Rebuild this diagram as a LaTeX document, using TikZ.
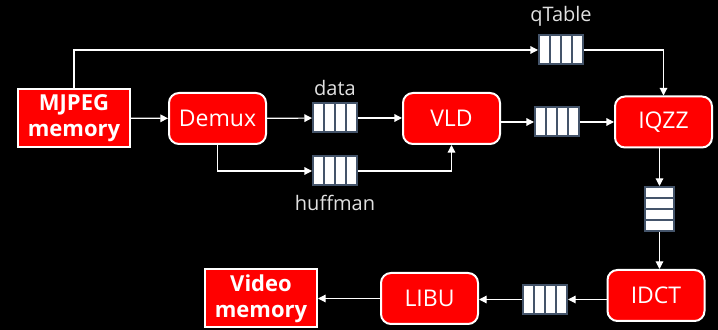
\documentclass[tikz,border=0pt]{standalone}
\usepackage{fontspec}
\setmainfont{Open Sans}
\usetikzlibrary{arrows.meta, positioning}
\definecolor{boxred}{RGB}{255,0,0}
\definecolor{slate}{RGB}{68,84,106}
\definecolor{labelgray}{RGB}{225,225,225}
\tikzset{
  stage/.style={rectangle, draw=white, fill=boxred, text=white,
    minimum width=48.5pt, minimum height=25.5pt, inner sep=0pt,
    rounded corners=5pt, line width=1pt,
    font=\fontsize{11.5}{13}\selectfont},
  memblock/.style={rectangle, draw=white, fill=boxred, text=white,
    minimum width=56pt, minimum height=29pt, inner sep=0pt,
    align=center, line width=1pt,
    font=\bfseries\fontsize{11}{13}\selectfont},
  fifo/.style={rectangle, draw=slate, fill=white, line width=1pt,
    minimum width=22pt, minimum height=14.5pt, inner sep=0pt,
    path picture={\foreach \k in {-5.5,0,5.5}
      \draw[slate, line width=1pt] ([xshift=\k pt]path picture bounding box.north)
        -- ([xshift=\k pt]path picture bounding box.south);}},
  vfifo/.style={rectangle, draw=slate, fill=white, line width=1pt,
    minimum width=14.5pt, minimum height=22pt, inner sep=0pt,
    path picture={\foreach \k in {-5.5,0,5.5}
      \draw[slate, line width=1pt] ([yshift=\k pt]path picture bounding box.west)
        -- ([yshift=\k pt]path picture bounding box.east);}},
  flow/.style={-{Triangle[length=3.8pt,width=3.8pt]}, white, line width=0.6pt},
  qlabel/.style={text=labelgray, font=\fontsize{10}{12}\selectfont, inner sep=1pt}
}
\begin{document}
\begin{tikzpicture}[x=0.5pt, y=-0.5pt]
  \fill[black] (0,0) rectangle (718,330);
  \useasboundingbox (0,0) rectangle (718,330);

  % decoder stages
  \node[memblock] (mjpeg) at (74,118) {MJPEG\\memory};
  \node[stage] (demux) at (217.5,118.5) {Demux};
  \node[stage] (vld) at (451.5,118.5) {VLD};
  \node[stage] (iqzz) at (663.5,122) {IQZZ};
  \node[stage] (idct) at (656,295.5) {IDCT};
  \node[stage] (libu) at (429.5,298.5) {LIBU};
  \node[memblock] (video) at (261,298.5) {Video\\memory};

  % fifos between stages
  \node[fifo] (dataq) at (335,118) {};
  \node[fifo] (huffq) at (335,171) {};
  \node[fifo] (vldq) at (557,122) {};
  \node[fifo] (qtab) at (561,50) {};
  \node[vfifo] (colq) at (659.5,209) {};
  \node[fifo] (idctq) at (545,299.5) {};

  \node[qlabel, above=2pt of dataq] {data};
  \node[qlabel, below=3pt of huffq] {huffman};
  \node[qlabel, above=3pt of qtab] {qTable};

  % Arrows
  \draw[flow] (mjpeg) -- (demux);
  \draw[flow] (demux) -- (dataq);
  \draw[flow] (dataq) -- (vld.west |- dataq);
  \draw[flow] (demux.south) |- (huffq.west);
  \draw[flow] (huffq.east) -| (vld.south);
  \draw[flow] (vld.east |- vldq) -- (vldq);
  \draw[flow] (vldq) -- (iqzz);
  \draw[flow] (mjpeg.north) |- (qtab.west);
  \draw[flow] (qtab.east) -| (iqzz.north);
  \draw[flow] (colq.north |- iqzz.south) -- (colq.north);
  \draw[flow] (colq.south) -- (colq.south |- idct.north);
  \draw[flow] (idct.west |- idctq) -- (idctq);
  \draw[flow] (idctq) -- (libu.east |- idctq);
  \draw[flow] (libu) -- (video);
\end{tikzpicture}
\end{document}
